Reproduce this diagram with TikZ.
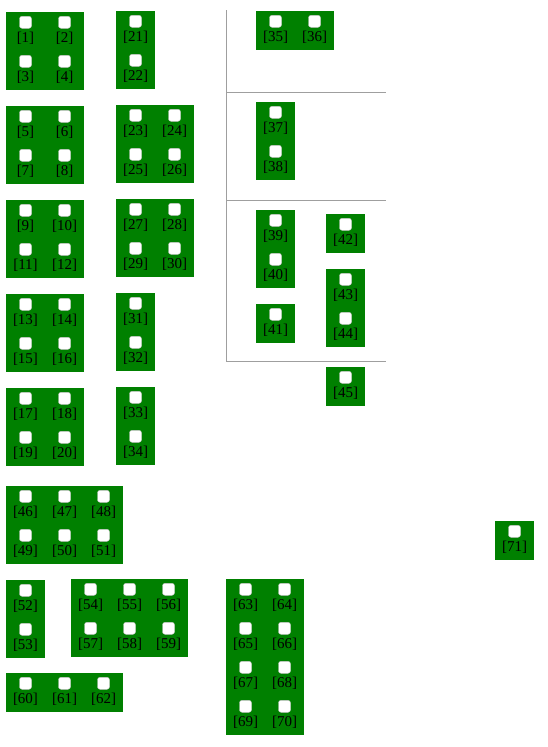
\documentclass[tikz,border=0pt]{standalone}
\usepackage{fontspec}
\setmainfont{Liberation Serif}
\definecolor{boxgreen}{HTML}{008000}
\tikzset{
  gbox/.style={fill=boxgreen, draw=none},
  chk/.style={fill=white, draw=gray!45, line width=0.4pt, rounded corners=2.5pt, minimum size=12pt, inner sep=0pt},
  lbl/.style={anchor=base, inner sep=0pt, font=\fontsize{15}{18}\selectfont},
  sepline/.style={draw=gray!75, line width=1pt}
}
\newcommand\gbx[6]{%
  \fill[gbox] (#2,#3) rectangle ++(#4*39,#5*39);
  \foreach \r in {1,...,#5} {\foreach \c in {1,...,#4} {
    \pgfmathtruncatemacro\n{#6+(\r-1)*#4+\c-1}
    \node[chk] (#1-\n) at (#2+\c*39-19.5, #3+\r*39-39+10.3) {};
    \node[lbl] (#1-l\n) at (#2+\c*39-19.5, #3+\r*39-39+30.8) {[\n]};
  }}%
}
\begin{document}
\begin{tikzpicture}[x=1pt,y=-1pt]
\useasboundingbox (0,0) rectangle (547,747);
% separator lines
\coordinate (vtop) at (226.5,10);
\coordinate (vbot) at (226.5,361.5);
\coordinate (h1a) at (226,92.5);  \coordinate (h1b) at (385.5,92.5);
\coordinate (h2a) at (226,200.5); \coordinate (h2b) at (385.5,200.5);
\coordinate (h3a) at (226,361.5); \coordinate (h3b) at (385.5,361.5);
\draw[sepline] (vtop) -- (vbot);
\draw[sepline] (h1a) -- (h1b);
\draw[sepline] (h2a) -- (h2b);
\draw[sepline] (h3a) -- (h3b);
% column 1
\gbx{a}{6}{12}{2}{2}{1}
\gbx{b}{6}{106}{2}{2}{5}
\gbx{c}{6}{200}{2}{2}{9}
\gbx{d}{6}{294}{2}{2}{13}
\gbx{e}{6}{388}{2}{2}{17}
% column 2
\gbx{f}{116}{11}{1}{2}{21}
\gbx{g}{116}{105}{2}{2}{23}
\gbx{h}{116}{199}{2}{2}{27}
\gbx{i}{116}{293}{1}{2}{31}
\gbx{j}{116}{387}{1}{2}{33}
% right section
\gbx{k}{256}{11}{2}{1}{35}
\gbx{l}{256}{102}{1}{2}{37}
\gbx{m}{256}{210}{1}{2}{39}
\gbx{n}{256}{304}{1}{1}{41}
\gbx{o}{326}{214}{1}{1}{42}
\gbx{p}{326}{269}{1}{2}{43}
\gbx{q}{326}{367}{1}{1}{45}
% lower part
\gbx{r}{6}{486}{3}{2}{46}
\gbx{s}{495}{521}{1}{1}{71}
\gbx{t}{6}{580}{1}{2}{52}
\gbx{u}{71}{579}{3}{2}{54}
\gbx{v}{6}{673}{3}{1}{60}
\gbx{w}{226}{579}{2}{4}{63}
\end{tikzpicture}
\end{document}
